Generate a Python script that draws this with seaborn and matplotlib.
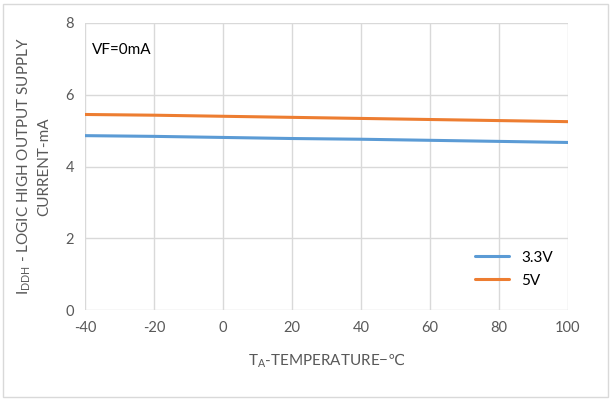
import matplotlib
matplotlib.use('Agg')
import matplotlib.pyplot as plt
import seaborn as sns
import pandas as pd
from matplotlib.patches import Rectangle

# Dados
temperatura = [-40, -20, 0, 20, 40, 60, 80, 100]
corrente_3v3 = [4.86, 4.84, 4.81, 4.78, 4.76, 4.73, 4.70, 4.67]
corrente_5v = [5.45, 5.43, 5.40, 5.37, 5.34, 5.31, 5.28, 5.25]
series = ['3.3V', '5V']
cores = ['#5B9BD5', '#ED7D31']

df = pd.DataFrame({
    'T': temperatura * 2,
    'I': corrente_3v3 + corrente_5v,
    'Serie': [series[0]] * len(temperatura) + [series[1]] * len(temperatura),
})

sns.set_style('white')
plt.rcParams['font.family'] = ['Lato', 'DejaVu Sans']
plt.rcParams['axes.unicode_minus'] = False
plt.rcParams['mathtext.fontset'] = 'dejavusans'
cor_texto = '#595959'

fig = plt.figure(figsize=(6.12, 4.0), dpi=100)
ax = fig.add_axes([85 / 612, 1 - 310 / 400, (568 - 85) / 612, (310 - 23) / 400])

sns.lineplot(data=df, x='T', y='I', hue='Serie', palette=cores, linewidth=2.2, ax=ax)

ax.set_xlim(-40, 100)
ax.set_ylim(0, 8)
ax.set_xticks(range(-40, 101, 20))
ax.set_yticks(range(0, 9, 2))
ax.grid(True, color='#D9D9D9', linewidth=1)
for s in ax.spines.values():
    s.set_visible(False)
ax.tick_params(colors=cor_texto, labelsize=10.5, length=0, pad=8)

ax.set_xlabel('T$_\\mathregular{A}$-TEMPERATURE−$\\mathrm{℃}$', color=cor_texto, fontsize=11, labelpad=12)
ax.set_ylabel('I$_\\mathregular{DDH}$ - LOGIC HIGH OUTPUT SUPPLY\nCURRENT-mA', color=cor_texto,
              fontsize=11, labelpad=10, linespacing=1.4)

ax.text(-38, 7.25, 'VF=0mA', fontsize=11, color='black', va='center')

leg = ax.legend(loc='upper left', bbox_to_anchor=(0.78, 0.255), frameon=False, fontsize=11,
                handlelength=2.2, labelspacing=0.6)
for t in leg.get_texts():
    t.set_color('black')

# moldura externa
fig.patches.append(Rectangle((3 / 612, 3 / 400), 605 / 612, 393 / 400, transform=fig.transFigure,
                             fill=False, edgecolor='#D9D9D9', linewidth=1))

plt.savefig('out.png', dpi=100)
